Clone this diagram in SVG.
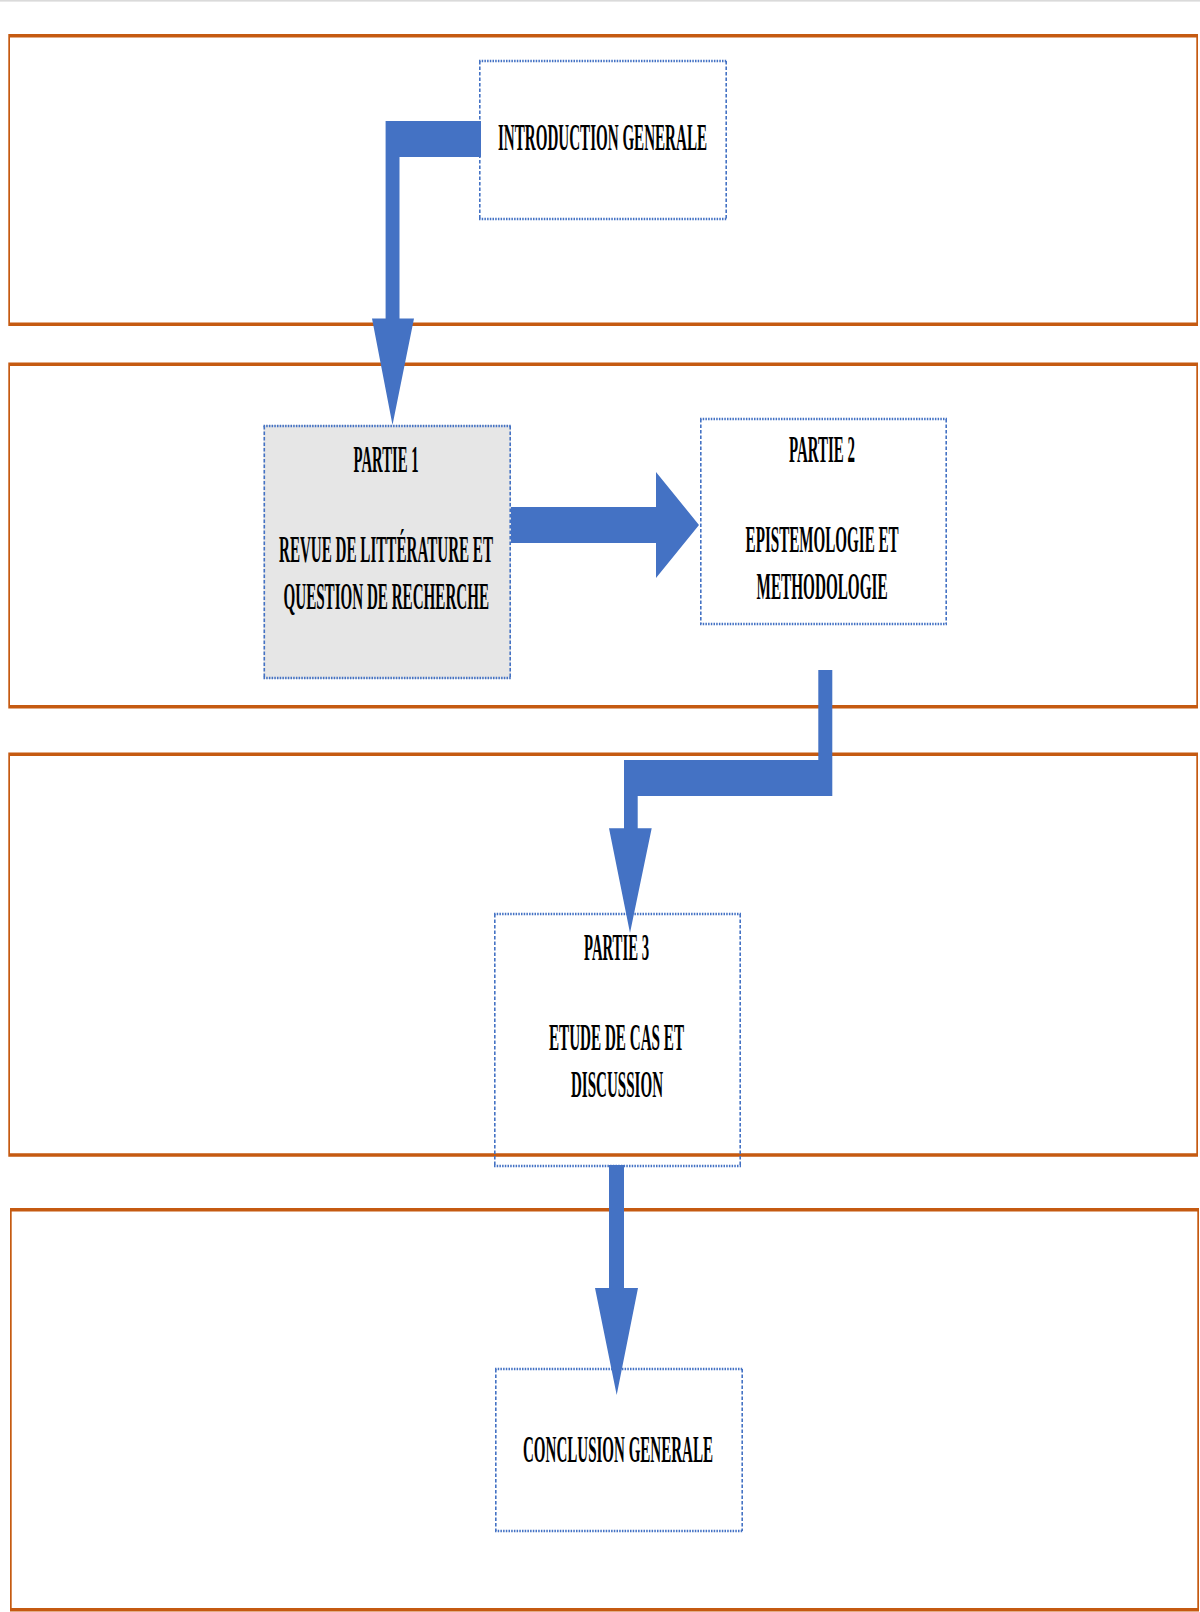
<svg xmlns="http://www.w3.org/2000/svg" width="1200" height="1612" viewBox="0 0 1200 1612">
<style>
.frame{fill:#C55A11;fill-rule:evenodd}
.dh{fill:none;stroke:#4472C4;stroke-width:2.6;stroke-dasharray:1.5 1.2}
.dv{fill:none;stroke:#4472C4;stroke-width:1.6;stroke-dasharray:3.5 2}
.lbl{font-family:"Liberation Serif","Times New Roman",serif;font-weight:bold;font-size:38px;fill:#000;text-anchor:middle}
.arrow{fill:#4472C4}
</style>
<rect x="0" y="0" width="1200" height="1.6" fill="#DADADA"/>
<g id="frames">
<path class="frame" d="M8.3,34H1198V326H8.3Z M10,37.5V322.5H1196.3V37.5Z"/>
<path class="frame" d="M8.3,362.5H1198V708.5H8.3Z M10,366V705H1196.3V366Z"/>
<path class="frame" d="M8.3,752.5H1198V1156.7H8.3Z M10,756V1153.2H1196.3V756Z"/>
<path class="frame" d="M10,1208H1199V1611.5H10Z M11.7,1211.5V1608H1197.3V1211.5Z"/>
</g>
<g id="intro">
<path class="dh" d="M479,61H727 M479,219H727"/>
<path class="dv" d="M479.8,61V219 M726.2,61V219"/>
<text class="lbl" transform="translate(602.5,150) scale(0.4,1)" textLength="522.5" lengthAdjust="spacingAndGlyphs">INTRODUCTION GENERALE</text>
</g>
<g id="partie1">
<rect x="263.5" y="425" width="247.5" height="254" fill="#E6E6E6"/>
<path class="dh" d="M263.5,426H511 M263.5,678H511"/>
<path class="dv" d="M264.3,426V678 M510.2,426V678"/>
<text class="lbl" transform="translate(386.1,472) scale(0.4,1)" textLength="162.5" lengthAdjust="spacingAndGlyphs">PARTIE 1</text>
<text class="lbl" transform="translate(386,562) scale(0.4,1)" textLength="535" lengthAdjust="spacingAndGlyphs">REVUE DE LITTÉRATURE ET</text>
<text class="lbl" transform="translate(386.25,609) scale(0.4,1)" textLength="513.75" lengthAdjust="spacingAndGlyphs">QUESTION DE RECHERCHE</text>
</g>
<g id="partie2">
<path class="dh" d="M700,419H947 M700,624H947"/>
<path class="dv" d="M700.8,419V624 M946.2,419V624"/>
<text class="lbl" transform="translate(822,462) scale(0.4,1)" textLength="165" lengthAdjust="spacingAndGlyphs">PARTIE 2</text>
<text class="lbl" transform="translate(822.1,552) scale(0.4,1)" textLength="382.5" lengthAdjust="spacingAndGlyphs">EPISTEMOLOGIE ET</text>
<text class="lbl" transform="translate(822.1,598.5) scale(0.4,1)" textLength="327.5" lengthAdjust="spacingAndGlyphs">METHODOLOGIE</text>
</g>
<g id="partie3">
<path class="dh" d="M494,914H741 M494,1166H741"/>
<path class="dv" d="M494.8,914V1166 M740.2,914V1166"/>
<text class="lbl" transform="translate(616.5,959.5) scale(0.4,1)" textLength="162.5" lengthAdjust="spacingAndGlyphs">PARTIE 3</text>
<text class="lbl" transform="translate(616.5,1050) scale(0.4,1)" textLength="337.5" lengthAdjust="spacingAndGlyphs">ETUDE DE CAS ET</text>
<text class="lbl" transform="translate(617,1097) scale(0.4,1)" textLength="230" lengthAdjust="spacingAndGlyphs">DISCUSSION</text>
</g>
<g id="conclusion">
<path class="dh" d="M495,1369H743 M495,1531H743"/>
<path class="dv" d="M495.8,1369V1531 M742.2,1369V1531"/>
<text class="lbl" transform="translate(618,1462) scale(0.4,1)" textLength="475" lengthAdjust="spacingAndGlyphs">CONCLUSION GENERALE</text>
</g>
<g id="connectors">
<polygon class="arrow" points="481,121 385.6,121 385.6,318.5 372,318.5 392.5,425 414,318.5 399.5,318.5 399.5,157 481,157"/>
<polygon class="arrow" points="511,507 656,507 656,472 699,525 656,578 656,543 511,543"/>
<polygon class="arrow" points="818.3,670 832.3,670 832.3,796 637.7,796 637.7,828.3 651.7,828.3 630,933 609,828.3 624,828.3 624,760 818.3,760"/>
<polygon class="arrow" points="609,1165 624,1165 624,1288 638,1288 616.7,1395 595,1288 609,1288"/>
</g>
</svg>
